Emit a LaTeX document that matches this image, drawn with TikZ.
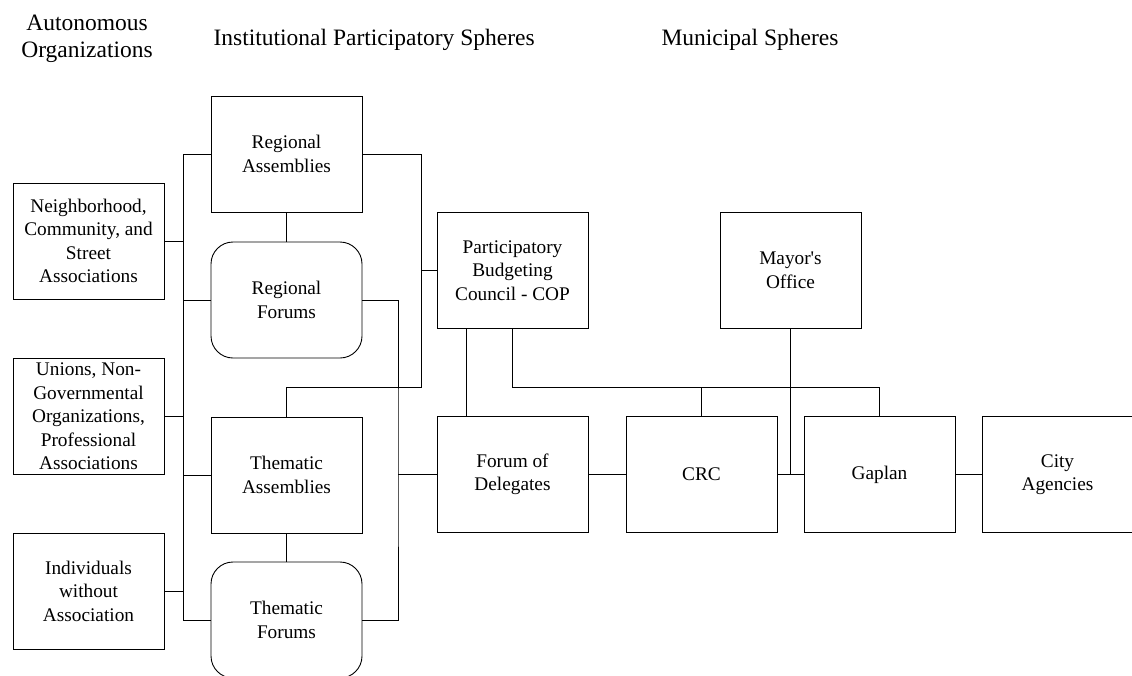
\documentclass[tikz,border=0pt]{standalone}
\usepackage{fontspec}
\setmainfont{Liberation Serif}[Ligatures=TeXOff]
\tikzset{
  box/.style={draw, line width=0.9pt, minimum width=151pt, minimum height=116pt,
    inner sep=0pt, align=center, font=\fontsize{19.3}{23.5}\selectfont},
  forum/.style={box, rounded corners=22pt},
  wire/.style={line width=0.9pt},
  title/.style={align=center, font=\fontsize{23.5}{27.5}\selectfont}
}
\begin{document}
\begin{tikzpicture}[x=1pt, y=-1pt]
  \clip (0,0) rectangle (1132,675);

  % Column titles
  \node[title] (tauto) at (87,39) {Autonomous\\Organizations};
  \node[title, anchor=west] (tinst) at (210,40) {Institutional Participatory Spheres};
  \node[title, anchor=west] (tmun) at (658,40) {Municipal Spheres};

  % Autonomous organizations
  \node[box] (nb) at (88.5,241) {Neighborhood,\\Community, and\\Street\\Associations};
  \node[box] (un) at (88.5,416.5) {Unions, Non-\\Governmental\\Organizations,\\Professional\\Associations};
  \node[box] (ind) at (88.5,591) {Individuals\\without\\Association};

  % Institutional spheres
  \node[box] (ra) at (286.5,154) {Regional\\Assemblies};
  \node[forum] (rf) at (286.5,300) {Regional\\Forums};
  \node[box] (ta) at (286.5,475) {Thematic\\Assemblies};
  \node[forum] (tf) at (286.5,620) {Thematic\\Forums};
  \node[box] (cop) at (512.5,270.5) {Participatory\\Budgeting\\Council - COP};
  \node[box] (fod) at (512.5,474.5) {Forum of\\Delegates};

  % Municipal spheres
  \node[box, minimum width=141pt] (mo) at (790.5,270.5) {Mayor's\\Office};
  \node[box] (crc) at (701.5,474.5) {CRC};
  \node[box] (gap) at (879.5,474.5) {Gaplan};
  \node[box] (ca) at (1057.5,474.5) {City\\Agencies};

  % Left bus
  \coordinate (lbus) at (183,154);
  \draw[wire] (ra.west) -- (lbus) |- (tf.west);
  \draw[wire] (nb.east) -- (nb.east -| lbus);
  \draw[wire] (rf.west) -- (rf.west -| lbus);
  \draw[wire] (un.east) -- (un.east -| lbus);
  \draw[wire] (ta.west) -- (ta.west -| lbus);
  \draw[wire] (ind.east) -- (ind.east -| lbus);
  \draw[wire] (ra.south) -- (rf.north);
  \draw[wire] (ta.south) -- (tf.north);

  % Right buses
  \coordinate (rbend) at (421,387);
  \draw[wire] (ra.east) -| (rbend) -| (ta.north);
  \draw[wire] (cop.west) -- (cop.west -| rbend);
  \coordinate (mbus) at (398,474.5);
  \draw[wire] (rf.east) -| (mbus) |- (tf.east);
  \draw[wire] (mbus) -- (fod.west);

  % Council and municipal links
  \coordinate (hbar) at (512.5,387);
  \draw[wire] ([xshift=-46.5pt]cop.south) -- ([xshift=-46.5pt]fod.north);
  \draw[wire] (cop.south) -- (hbar) -| (gap.north);
  \draw[wire] (crc.north |- hbar) -- (crc.north);
  \draw[wire] (mo.south) -- (mo.south |- gap.west);
  \draw[wire] (fod.east) -- (crc.west);
  \draw[wire] (crc.east) -- (gap.west);
  \draw[wire] (gap.east) -- (ca.west);
\end{tikzpicture}
\end{document}
